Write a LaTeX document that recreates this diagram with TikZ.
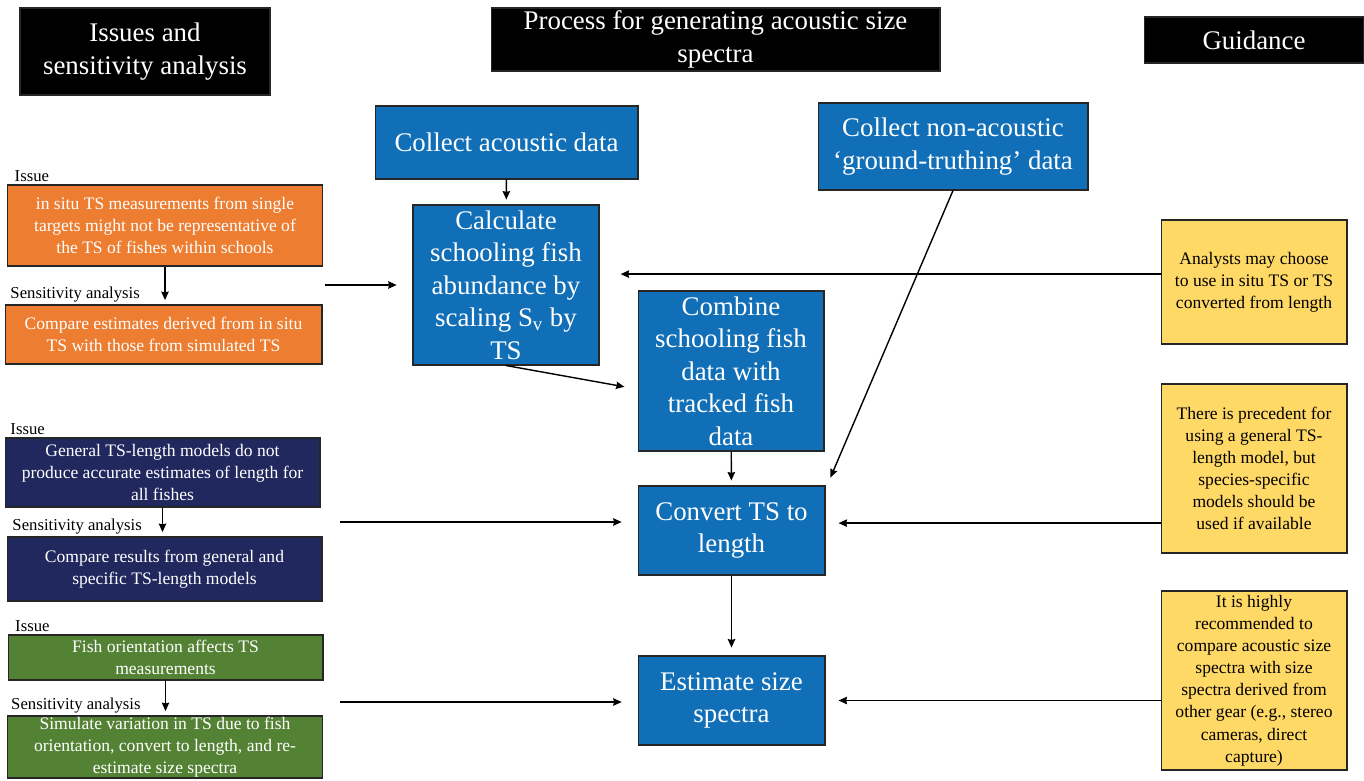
\documentclass[tikz,border=0pt]{standalone}
\usepackage{fontspec}
\setmainfont{Liberation Serif}
\usetikzlibrary{arrows.meta}
\definecolor{procblue}{RGB}{17,111,184}
\definecolor{issorange}{RGB}{237,125,49}
\definecolor{issnavy}{RGB}{32,40,94}
\definecolor{issgreen}{RGB}{84,130,53}
\definecolor{guideyellow}{RGB}{255,217,102}
\begin{document}
\begin{tikzpicture}[x=0.02cm, y=-0.02cm, thick, >={Stealth[length=4.8pt,width=4.2pt,inset=0.4pt]},
                    box/.style={draw=black!85, line width=0.6pt, inner sep=0pt, align=center},
                    hdr/.style={box, fill=black, text=white, font=\fontsize{15.3}{18.5}\selectfont},
                    proc/.style={box, fill=procblue, text=white, font=\fontsize{15.3}{18.5}\selectfont, minimum width=3.72cm, minimum height=3.2cm},
                    issue/.style={box, text=white, font=\fontsize{10}{12.5}\selectfont, minimum width=6.3cm},
                    guide/.style={box, fill=guideyellow, font=\fontsize{10}{12.6}\selectfont, minimum width=3.72cm},
                    lbl/.style={inner sep=1pt, font=\fontsize{9.5}{11}\selectfont}]
                    \useasboundingbox (0,0) rectangle (1364,780);
                    % column headers
                    \node[hdr, minimum width=5cm, minimum height=1.74cm] (h1) at (145,51.5) {Issues and\\sensitivity analysis};
                    \node[hdr, minimum width=8.98cm, minimum height=1.26cm] (h2) at (715.5,39.5) {Process for generating acoustic size\\spectra};
                    \node[hdr, minimum width=4.4cm, minimum height=0.92cm] (h3) at (1254,40) {Guidance};
                    % process
                    \node[proc, minimum width=5.26cm, minimum height=1.46cm] (ca) at (506.5,142.5) {Collect acoustic data};
                    \node[proc, minimum width=5.4cm, minimum height=1.74cm] (cn) at (953,146.5) {Collect non-acoustic\\‘ground-truthing’ data};
                    \node[proc] (calc) at (506,285) {Calculate\\schooling fish\\abundance by\\scaling S\textsubscript{v} by\\TS};
                    \node[proc] (comb) at (731,371) {Combine\\schooling fish\\data with\\tracked fish\\data};
                    \node[proc, minimum width=3.74cm, minimum height=1.78cm] (conv) at (731.5,530.5) {Convert TS to\\length};
                    \node[proc, minimum width=3.74cm, minimum height=1.78cm] (est) at (731.5,700.5) {Estimate size\\spectra};
                    % issues
                    \node[issue, fill=issorange, minimum height=1.62cm] (oi) at (165,225.5) {in situ TS measurements from single\\targets might not be representative of\\the TS of fishes within schools};
                    \node[issue, fill=issorange, minimum width=6.34cm, minimum height=1.18cm] (os) at (163.5,334.5) {Compare estimates derived from in situ\\TS with those from simulated TS};
                    \node[issue, fill=issnavy, minimum height=1.38cm] (ni) at (162.5,472.5) {General TS-length models do not\\produce accurate estimates of length for\\all fishes};
                    \node[issue, fill=issnavy, minimum height=1.28cm] (ns) at (164.5,569) {Compare results from general and\\specific TS-length models};
                    \node[issue, fill=issgreen, minimum height=0.9cm] (gi) at (165.5,657.5) {Fish orientation affects TS\\measurements};
                    \node[issue, fill=issgreen, minimum height=1.24cm] (gs) at (165,747) {Simulate variation in TS due to fish\\orientation, convert to length, and re-\\estimate size spectra};
                    \node[lbl, anchor=south west] (oil) at ([xshift=3pt]oi.north west) {Issue};
                    \node[lbl, anchor=south west] (osl) at ([xshift=2pt]os.north west) {Sensitivity analysis};
                    \node[lbl, anchor=south west] (nil) at ([xshift=2pt]ni.north west) {Issue};
                    \node[lbl, anchor=south west] (nsl) at ([xshift=2pt]ns.north west) {Sensitivity analysis};
                    \node[lbl, anchor=south west] (gil) at ([xshift=3pt]gi.north west) {Issue};
                    \node[lbl, anchor=south west] (gsl) at ([xshift=1pt]gs.north west) {Sensitivity analysis};
                    % guidance
                    \node[guide, minimum height=2.48cm] (g1) at (1254,282) {Analysts may choose\\to use in situ TS or TS\\converted from length};
                    \node[guide, minimum height=3.38cm] (g2) at (1254,468.5) {There is precedent for\\using a general TS-\\length model, but\\species-specific\\models should be\\used if available};
                    \node[guide, minimum height=3.58cm] (g3) at (1254,680.5) {It is highly\\recommended to\\compare acoustic size\\spectra with size\\spectra derived from\\other gear (e.g., stereo\\cameras, direct\\capture)};
                    % connectors
                    \coordinate (nv) at (340,522);
                    \coordinate (gv) at (340,702);
                    \draw[->, shorten >=2.8pt] (ca) -- (calc);
                    \draw[->] (calc.south) -- ([xshift=-7.4pt,yshift=-9pt]comb.west);
                    \draw[->, shorten >=2.8pt] (comb) -- (conv);
                    \draw[->, shorten >=4.5pt] (conv) -- (est);
                    \draw[->] (cn.south) -- ([shift={(2.8pt,4.5pt)}]conv.north east);
                    \draw[->, shorten <=1pt, shorten >=9pt] (oi.east |- calc) -- (calc);
                    \draw[->, shorten >=9pt] (nv) -- (nv -| conv.west);
                    \draw[->, shorten >=9pt] (gv) -- (gv -| est.west);
                    \draw[->, shorten >=12pt] ([yshift=4.5pt]g1.west) -- ([yshift=4.5pt]g1.west -| calc.east);
                    \draw[->, shorten >=7.4pt] ([yshift=4.2pt]conv.east -| g2.west) -- ([yshift=4.2pt]conv.east);
                    \draw[->, shorten >=7.4pt] (est -| g3.west) -- (est.east);
                    \draw[->, shorten >=2.5pt] (oi.south) -- (oi.south |- os.north);
                    \draw[->, shorten >=2.5pt] (ni.south) -- (ni.south |- ns.north);
                    \draw[->, shorten >=2.5pt] (gi.south) -- (gi.south |- gs.north);
                \end{tikzpicture}
\end{document}
